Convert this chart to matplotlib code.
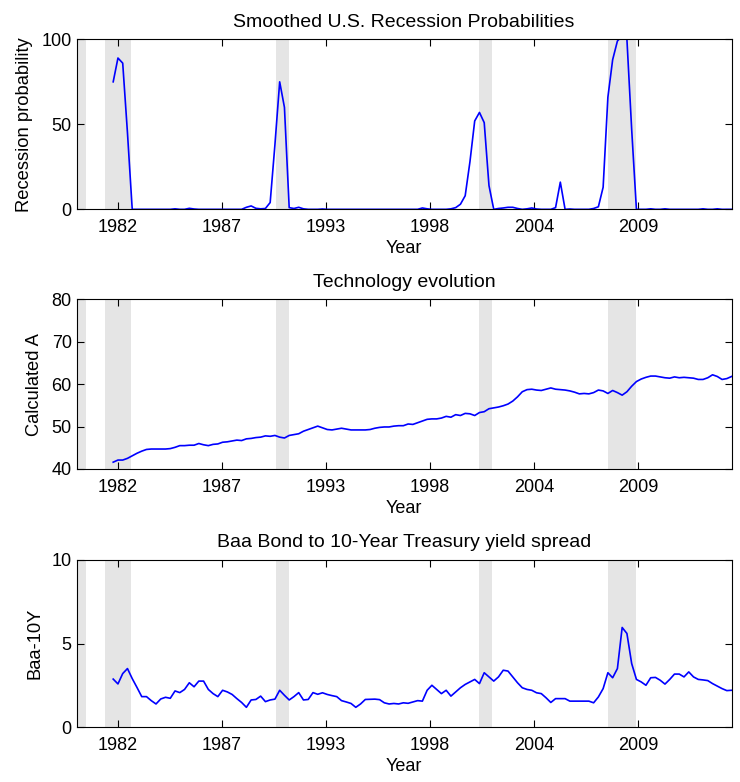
import numpy as np
import matplotlib
matplotlib.use("Agg")
import matplotlib.pyplot as plt

plt.rcParams['font.family'] = ['Liberation Sans', 'DejaVu Sans']
plt.rcParams['font.size'] = 13

# quarterly series, first observation end of 1981
start_year = 1981.92

recession_prob = [75, 89, 86, 45, 0, 0, 0, 0, 0, 0,
                  0, 0, 0, 0.3, 0, 0, 0.6, 0.2, 0, 0,
                  0, 0, 0, 0, 0, 0, 0, 0, 1.2, 2,
                  0.6, 0.3, 0.5, 4, 38, 75, 60, 1, 0.5, 1.2,
                  0.3, 0, 0, 0, 0.2, 0, 0, 0, 0, 0,
                  0, 0, 0, 0, 0, 0, 0, 0, 0, 0,
                  0, 0, 0, 0, 0, 0.8, 0.3, 0, 0, 0,
                  0, 0.3, 1, 3, 8, 28, 52, 57, 51, 14,
                  0, 0.5, 0.8, 1.2, 1.2, 0.5, 0, 0.3, 0.8, 0.2,
                  0, 0, 0, 1, 16, 0, 0.2, 0, 0, 0,
                  0, 0.5, 1.5, 13, 66, 88, 99, 102, 100, 47,
                  0, 0, 0, 0.3, 0, 0, 0.3, 0, 0, 0,
                  0, 0, 0, 0, 0.3, 0, 0, 0.3, 0, 0,
                  0]

calculated_a = [41.6, 42.1, 42.1, 42.5, 43.1, 43.7, 44.2, 44.6, 44.7, 44.7,
                44.7, 44.7, 44.8, 45.1, 45.5, 45.5, 45.6, 45.6, 46.0, 45.7,
                45.5, 45.8, 45.9, 46.3, 46.4, 46.6, 46.8, 46.7, 47.1, 47.2,
                47.4, 47.5, 47.8, 47.7, 47.9, 47.5, 47.3, 47.9, 48.1, 48.3,
                48.9, 49.3, 49.7, 50.1, 49.7, 49.3, 49.2, 49.4, 49.6, 49.4,
                49.2, 49.2, 49.2, 49.2, 49.3, 49.6, 49.8, 49.9, 49.9, 50.1,
                50.2, 50.2, 50.6, 50.5, 50.9, 51.3, 51.7, 51.8, 51.8, 52.0,
                52.4, 52.2, 52.8, 52.6, 53.1, 53.0, 52.6, 53.3, 53.5, 54.2,
                54.4, 54.6, 54.9, 55.3, 56.0, 57.0, 58.2, 58.7, 58.8, 58.6,
                58.5, 58.8, 59.1, 58.8, 58.7, 58.6, 58.4, 58.1, 57.7, 57.8,
                57.7, 58.0, 58.6, 58.4, 57.8, 58.5, 58.0, 57.4, 58.2, 59.5,
                60.6, 61.2, 61.6, 61.9, 61.9, 61.7, 61.5, 61.4, 61.7, 61.5,
                61.6, 61.5, 61.4, 61.1, 61.1, 61.5, 62.2, 61.8, 61.1, 61.3,
                61.8]

baa_spread = [2.87, 2.58, 3.2, 3.5, 2.9, 2.37, 1.82, 1.82, 1.58, 1.38,
              1.68, 1.78, 1.72, 2.16, 2.06, 2.25, 2.65, 2.41, 2.75, 2.75,
              2.25, 2.0, 1.82, 2.2, 2.1, 1.95, 1.7, 1.47, 1.18, 1.62,
              1.65, 1.85, 1.52, 1.62, 1.67, 2.2, 1.9, 1.62, 1.82, 2.06,
              1.62, 1.65, 2.06, 1.96, 2.05, 1.95, 1.88, 1.82, 1.58, 1.5,
              1.41, 1.18, 1.38, 1.65, 1.66, 1.67, 1.64, 1.45, 1.38, 1.41,
              1.38, 1.45, 1.42, 1.5, 1.58, 1.55, 2.2, 2.5, 2.25, 2.0,
              2.2, 1.85, 2.1, 2.35, 2.55, 2.7, 2.85, 2.6, 3.25, 3.0,
              2.75, 3.0, 3.4, 3.35, 3.0, 2.65, 2.35, 2.25, 2.2, 2.05,
              2.0, 1.75, 1.47, 1.7, 1.7, 1.7, 1.55, 1.55, 1.55, 1.55,
              1.55, 1.45, 1.8, 2.3, 3.25, 2.95, 3.5, 5.96, 5.6, 3.8,
              2.85, 2.7, 2.5, 2.95, 2.97, 2.8, 2.57, 2.85, 3.17, 3.17,
              3.0, 3.3, 3.0, 2.85, 2.82, 2.78, 2.6, 2.45, 2.3, 2.18,
              2.2]

# NBER recession periods (decimal years)
recessions = [(1980.0, 1980.5), (1981.5, 1982.83), (1990.5, 1991.17),
              (2001.17, 2001.83), (2007.92, 2009.42)]

tick_labels = ['1982', '1987', '1993', '1998', '2004', '2009']

t = start_year + np.arange(len(recession_prob)) / 4.0
xticks = 1982.17 + 5.466 * np.arange(len(tick_labels))

panels = [
    (recession_prob, 'Smoothed U.S. Recession Probabilities', 'Recession probability', (0, 100), [0, 50, 100]),
    (calculated_a, 'Technology evolution', 'Calculated A', (40, 80), [40, 50, 60, 70, 80]),
    (baa_spread, 'Baa Bond to 10-Year Treasury yield spread', 'Baa-10Y', (0, 10), [0, 5, 10]),
]
positions = [[0.1036, 0.7323, 0.885, 0.2174],
             [0.1036, 0.4003, 0.885, 0.2170],
             [0.1036, 0.0703, 0.885, 0.2136]]

fig = plt.figure(figsize=(7.4, 7.82), dpi=100)
for (vals, title, ylab, ylim, yt), pos in zip(panels, positions):
    ax = fig.add_axes(pos)
    for a, b in recessions:
        ax.axvspan(a, b, color='#e5e5e5', lw=0, zorder=0)
    ax.plot(t, vals, color='#0000ff', lw=1.2, zorder=2)
    ax.set_xlim(1980.0, t[-1])
    ax.set_ylim(*ylim)
    ax.set_yticks(yt)
    ax.set_xticks(xticks)
    ax.set_xticklabels(tick_labels)
    ax.tick_params(direction='in', top=True, right=True, length=5, width=0.8, labelsize=13)
    ax.tick_params(axis='x', pad=7)
    ax.tick_params(axis='y', pad=3.5)
    for s in ax.spines.values():
        s.set_linewidth(0.8)
    ax.set_title(title, fontsize=14, pad=9)
    ax.set_xlabel('Year', fontsize=13, labelpad=3)
    ax.set_ylabel(ylab, fontsize=13.2, labelpad=6)

fig.savefig('out.png', dpi=100)
